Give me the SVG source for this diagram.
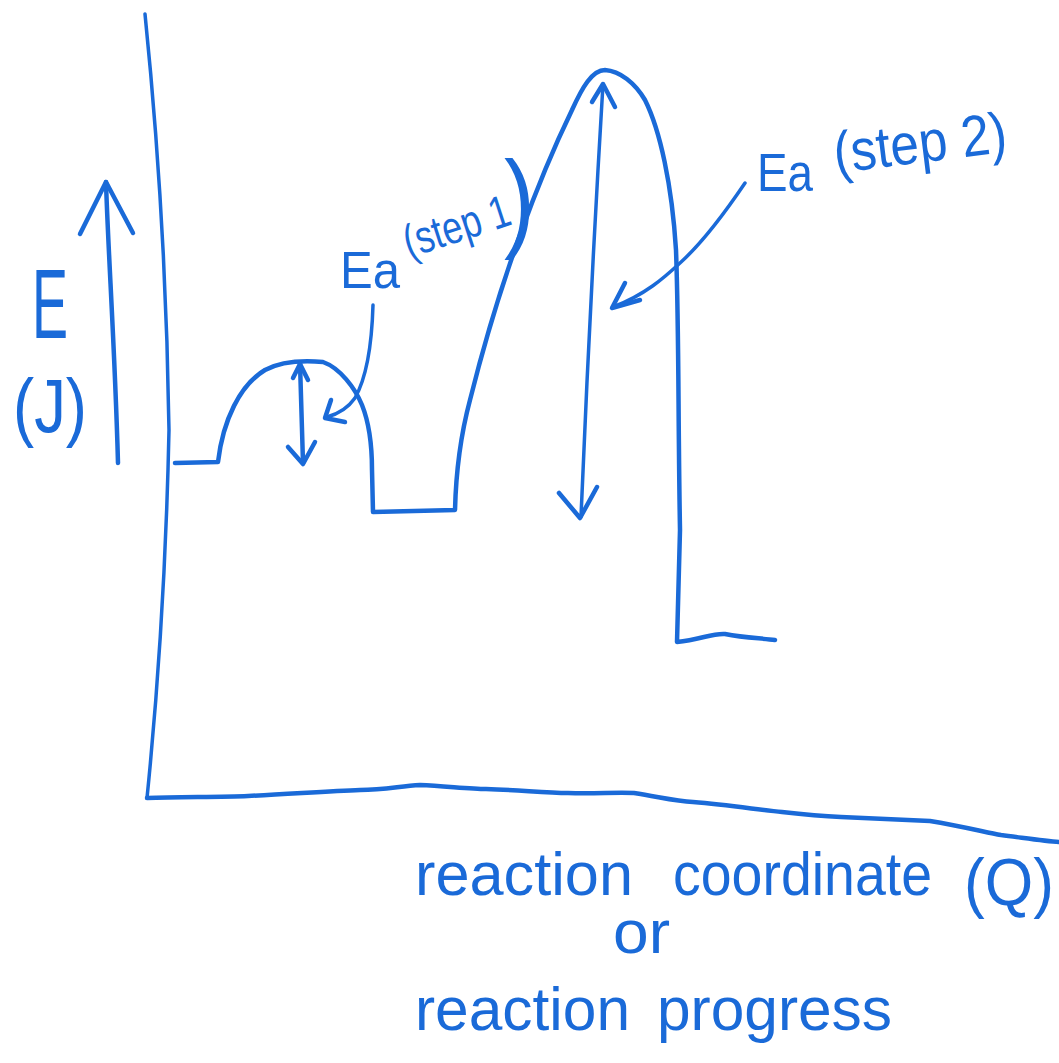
<svg xmlns="http://www.w3.org/2000/svg" width="1059" height="1063" viewBox="0 0 1059 1063">
  <style>
    .ink { fill: none; stroke: #1a6ad8; stroke-width: 4.5; stroke-linecap: round; stroke-linejoin: round; }
    .thin { fill: none; stroke: #1a6ad8; stroke-width: 3.5; stroke-linecap: round; stroke-linejoin: round; }
    .lbl { fill: #1a6ad8; font-family: "Liberation Sans", "DejaVu Sans", sans-serif; }
  </style>
  <rect width="1059" height="1063" fill="#ffffff"/>

  <g id="axes">
    <path class="thin" d="M145,14 Q166,220 169,430 Q165,620 147,798"/>
    <path class="ink" d="M147,798 C180,797 220,797 248,796 C290,794 330,791 360,790 C385,790 400,786 420,785 C445,786 470,789 486,789 C520,790 545,793 568,793 C595,794 615,792 634,793 C660,797 675,801 693,802 C730,805 760,810 782,812 C800,814 820,816 841,817 C880,819 905,820 930,821 C960,826 985,832 1001,835 C1025,838 1045,841 1059,842"/>
  </g>

  <g id="energy-curve">
    <path class="ink" d="M175,463 L218,462 C223,420 240,385 265,370 C280,362 300,360 323,362 C340,368 355,388 362,405 C370,425 372,445 372,470 L373,512 L455,510 C456,470 462,430 470,400 C485,340 500,290 520,235 C538,185 555,145 572,110 C582,88 592,70 605,70 C620,71 635,83 645,100 C660,130 672,185 676,250 C679,330 678,420 680,530 L677,642 C700,640 712,633 725,634 C745,638 760,638 775,640"/>
  </g>

  <g id="connectors">
    <g id="energy-arrow">
      <path class="ink" d="M118,463 C115,350 108,250 106,182"/>
      <path class="ink" d="M80,234 L106,182 L133,233"/>
    </g>
    <g id="ea1-arrow">
      <path class="ink" d="M300,363 L303,463"/>
      <path class="ink" d="M293,378 L300,364 L308,380"/>
      <path class="ink" d="M288,447 L303,464 L315,442"/>
    </g>
    <g id="ea1-leader">
      <path class="thin" d="M373,305 C372,340 368,375 355,398 C348,408 338,414 327,417"/>
      <path class="ink" d="M331,400 L325,418 L345,422"/>
    </g>
    <g id="ea2-arrow">
      <path class="thin" d="M603,84 Q590,300 581,517"/>
      <path class="ink" d="M592,102 L603,84 L615,107"/>
      <path class="ink" d="M559,493 L580,518 L597,487"/>
    </g>
    <g id="ea2-leader">
      <path class="thin" d="M745,183 C720,220 700,245 680,263 C665,277 645,295 613,307"/>
      <path class="ink" d="M625,283 L612,308 L640,300"/>
    </g>
  </g>

  <g id="y-label">
    <text class="lbl" x="32" y="338" font-size="98" textLength="36" lengthAdjust="spacingAndGlyphs">E</text>
    <text class="lbl" x="13" y="432" font-size="76" textLength="74" lengthAdjust="spacingAndGlyphs">(J)</text>
  </g>

  <g id="ea1-label">
    <text class="lbl" x="340" y="288" font-size="52" textLength="60" lengthAdjust="spacingAndGlyphs">Ea</text>
    <text class="lbl" x="0" y="0" font-size="46" textLength="110" lengthAdjust="spacingAndGlyphs" transform="translate(409,258) rotate(-18)">(step 1</text>
    <text class="lbl" x="0" y="0" font-size="58" transform="translate(504,237) scale(1.6,1.9)">)</text>
  </g>

  <g id="ea2-label">
    <text class="lbl" x="757" y="191" font-size="54" textLength="56" lengthAdjust="spacingAndGlyphs">Ea</text>
    <text class="lbl" x="0" y="0" font-size="58" textLength="174" lengthAdjust="spacingAndGlyphs" transform="translate(836,173) rotate(-7)">(step 2)</text>
  </g>

  <g id="x-label">
    <text class="lbl" x="415" y="895" font-size="62" textLength="218" lengthAdjust="spacingAndGlyphs">reaction</text>
    <text class="lbl" x="673" y="895" font-size="62" textLength="259" lengthAdjust="spacingAndGlyphs">coordinate</text>
    <text class="lbl" x="964" y="905" font-size="66" textLength="90" lengthAdjust="spacingAndGlyphs">(Q)</text>
    <text class="lbl" x="613" y="953" font-size="62" textLength="57" lengthAdjust="spacingAndGlyphs">or</text>
    <text class="lbl" x="415" y="1030" font-size="62" textLength="215" lengthAdjust="spacingAndGlyphs">reaction</text>
    <text class="lbl" x="657" y="1030" font-size="62" textLength="235" lengthAdjust="spacingAndGlyphs">progress</text>
  </g>
</svg>
